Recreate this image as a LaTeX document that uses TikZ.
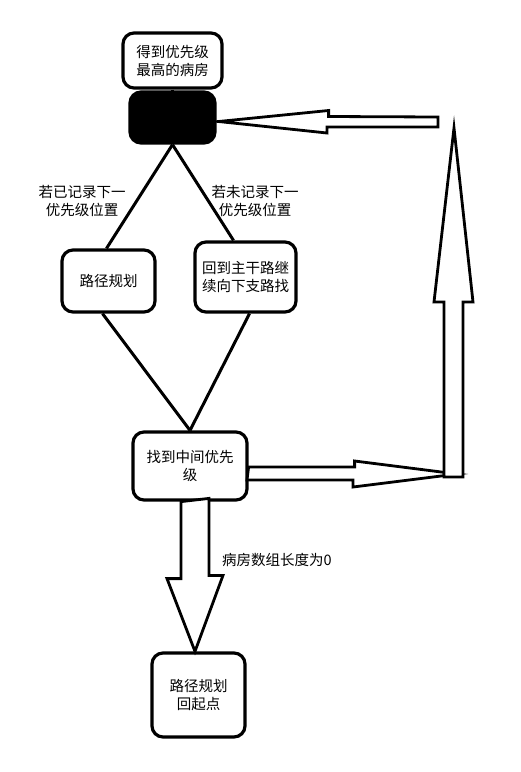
\documentclass[tikz,border=0pt]{standalone}
\usepackage{fontspec}
\setmainfont{Noto Sans CJK SC}
\usetikzlibrary{arrows.meta, positioning}

\begin{document}
\begin{tikzpicture}[
  x=1pt, y=-1pt,
  font=\fontsize{14.5}{18}\selectfont,
  box/.style={draw, line width=3.2pt, rounded corners=11pt, align=center, inner sep=0pt},
  link/.style={line width=3pt},
  blockarrow/.style={draw, line width=2.8pt, fill=white, line join=miter},
  lbl/.style={align=center, inner sep=0pt}
]
\useasboundingbox (0,0) rectangle (521,772);

\node[box, minimum width=99pt, minimum height=55pt] (top) at (172.5,60.5) {得到优先级\\最高的病房};
\node[box, fill=black, minimum width=85pt, minimum height=51pt] (gate) at (172.5,117.5) {};
\node[box, minimum width=93pt, minimum height=62pt] (plan) at (108.5,281) {路径规划};
\node[box, minimum width=101pt, minimum height=70pt] (trunk) at (245.5,277) {回到主干路继\\续向下支路找};
\node[box, minimum width=114pt, minimum height=68pt] (find) at (190,466) {找到中间优先\\级};
\node[box, minimum width=93pt, minimum height=84pt] (home) at (198.5,695) {路径规划\\回起点};

\node[lbl] (yes) at (82,201) {若已记录下一\\优先级位置};
\node[lbl] (no) at (255,201) {若未记录下一\\优先级位置};
\node[lbl, anchor=west] (empty) at (222,560) {病房数组长度为0};

\coordinate (backend) at (438,122);
\coordinate (backtip) at (454,128);
\coordinate (corner) at (457,474);

\draw[link] (top.south) -- (gate.north);
\draw[link] (gate.south) -- ([xshift=-2pt]plan.north);
\draw[link] (gate.south) -- ([xshift=-12pt]trunk.north);
\draw[link] ([xshift=-6pt]plan.south) -- (find.north);
\draw[link] ([xshift=4pt]trunk.south) -- (find.north);

% block arrows
\draw[blockarrow] ([xshift=-9pt]find.south) -- ++(0,77) -- ++(-14,0) -- ([xshift=-3.5pt]home.north) -- ++(28,-76) -- ++(-14,0) -- ++(0,-77) -- cycle;
\draw[blockarrow] ([yshift=-1pt]find.east) -- ++(106,0) -- ++(0,-6) -- (corner) -- ++(-104,13) -- ++(0,-7) -- ++(-106,0) -- cycle;
\draw[blockarrow] (backtip) -- ++(19,174) -- ++(-10,0) -- ++(0,175) -- ++(-19,0) -- ++(0,-175) -- ++(-10,0) -- cycle;
\draw[blockarrow] ([shift={(2,4)}]gate.east) -- ++(110,-11) -- ++(0,6) -- (backend |- 0,117) -- (backend |- 0,127) -- ++(-111,0) -- ++(0,6) -- cycle;
\end{tikzpicture}
\end{document}
